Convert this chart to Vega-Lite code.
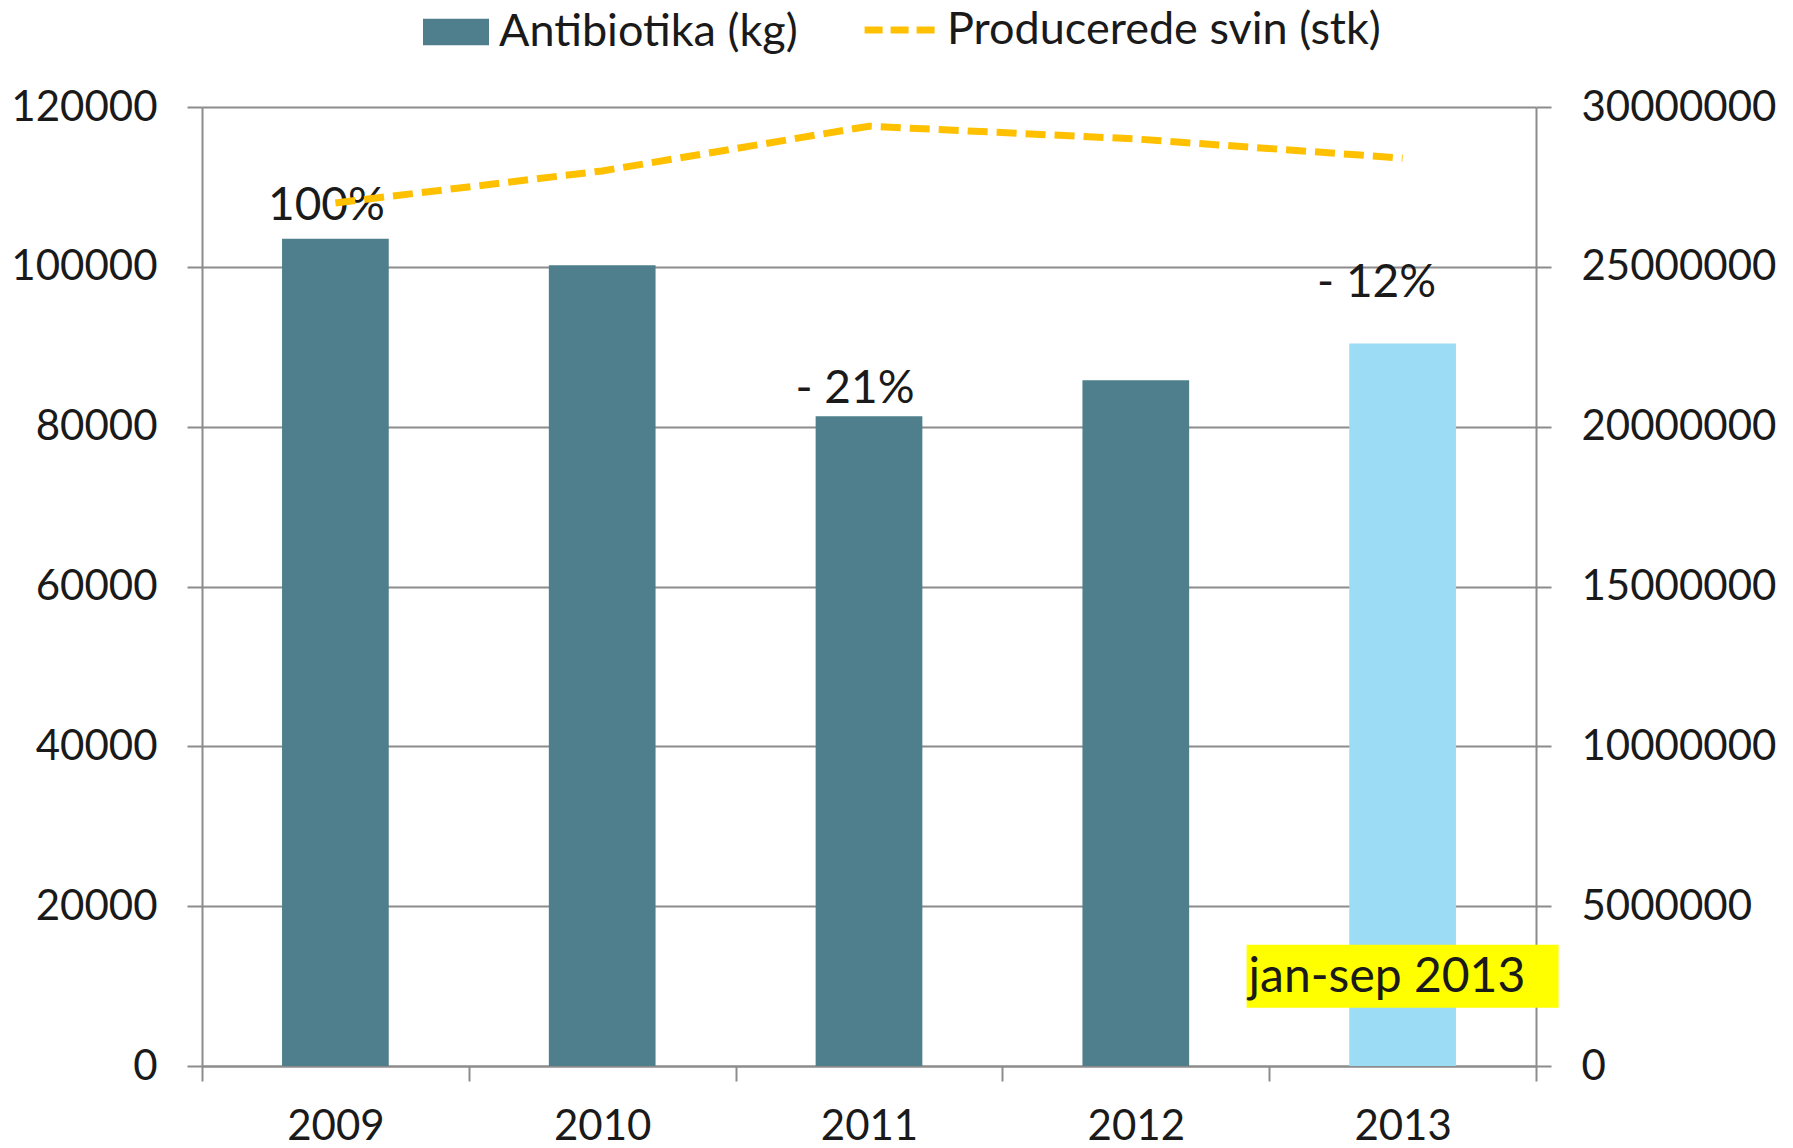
{
  "$schema": "https://vega.github.io/schema/vega-lite/v6.json",
  "autosize": "none",
  "width": 1334,
  "height": 959,
  "padding": {"left": 202, "top": 107, "right": 257, "bottom": 82},
  "background": "white",
  "config": {
    "font": "Lato",
    "view": {"stroke": null},
    "axis": {
      "labelFont": "Lato",
      "labelFontSize": 42,
      "labelColor": "#1a1a1a",
      "labelLimit": 0,
      "domainColor": "#8c8c8c",
      "domainWidth": 2,
      "tickColor": "#8c8c8c",
      "tickWidth": 2,
      "tickSize": 15,
      "gridColor": "#8c8c8c",
      "gridWidth": 2,
      "title": null
    },
    "legend": {"labelFont": "Lato", "labelFontSize": 45, "labelColor": "#1a1a1a", "labelLimit": 0}
  },
  "data": {
    "values": [
      {"year": "2009", "antibiotika": 103500, "svin": 27000000, "label": "100%"},
      {"year": "2010", "antibiotika": 100200, "svin": 28000000, "label": ""},
      {"year": "2011", "antibiotika": 81300, "svin": 29400000, "label": "- 21%"},
      {"year": "2012", "antibiotika": 85800, "svin": 29000000, "label": ""},
      {"year": "2013", "antibiotika": 90400, "svin": 28400000, "label": "- 12%"}
    ]
  },
  "layer": [
    {
      "layer": [
        {
          "mark": {"type": "bar", "width": {"band": 0.4}},
          "encoding": {
            "x": {
              "field": "year", "type": "ordinal",
              "scale": {"paddingInner": 0, "paddingOuter": 0},
              "axis": {"labelAngle": 0, "tickBand": "extent", "labelPadding": 25, "grid": false}
            },
            "y": {
              "field": "antibiotika", "type": "quantitative",
              "scale": {"domain": [0, 120000], "nice": false},
              "axis": {"values": [0, 20000, 40000, 60000, 80000, 100000, 120000], "format": "d", "labelPadding": 30, "grid": true}
            },
            "fill": {
              "datum": "Antibiotika (kg)",
              "scale": {"domain": ["Antibiotika (kg)"], "range": ["#4f7f8c"]},
              "legend": {"title": null, "orient": "none", "legendX": 221, "legendY": -108, "symbolType": "M-1,-0.4H1V0.4H-1Z", "symbolSize": 4356, "labelOffset": 10, "symbolStrokeWidth": 0},
              "condition": {"test": "datum.year === '2013'", "value": "#9ddcf5"}
            }
          }
        },
        {
          "transform": [{"filter": "datum.year === '2009'"}],
          "mark": {"type": "text", "fontSize": 46, "color": "#1a1a1a", "baseline": "middle", "dy": -33, "dx": -9},
          "encoding": {"x": {"field": "year", "type": "ordinal"}, "y": {"field": "antibiotika", "type": "quantitative"}, "text": {"field": "label"}}
        },
        {
          "transform": [{"filter": "datum.year === '2011'"}],
          "mark": {"type": "text", "fontSize": 46, "color": "#1a1a1a", "baseline": "middle", "dy": -27, "dx": -14},
          "encoding": {"x": {"field": "year", "type": "ordinal"}, "y": {"field": "antibiotika", "type": "quantitative"}, "text": {"field": "label"}}
        },
        {
          "transform": [{"filter": "datum.year === '2013'"}],
          "mark": {"type": "text", "fontSize": 46, "color": "#1a1a1a", "baseline": "middle", "dy": -61, "dx": -26},
          "encoding": {"x": {"field": "year", "type": "ordinal"}, "y": {"field": "antibiotika", "type": "quantitative"}, "text": {"field": "label"}}
        },
        {
          "transform": [{"filter": "datum.year === '2013'"}],
          "mark": {"type": "bar", "width": 312, "color": "#ffff00"},
          "encoding": {"x": {"field": "year", "type": "ordinal"}, "y": {"datum": 15179}, "y2": {"datum": 7303}}
        },
        {
          "transform": [{"filter": "datum.year === '2013'"}],
          "mark": {"type": "text", "fontSize": 48, "color": "#1a1a1a", "baseline": "middle", "align": "left", "dx": -154},
          "encoding": {"x": {"field": "year", "type": "ordinal"}, "y": {"datum": 11026}, "text": {"value": "jan-sep 2013"}}
        }
      ]
    },
    {
      "mark": {"type": "line", "strokeWidth": 7, "strokeDash": [20, 9]},
      "encoding": {
        "x": {"field": "year", "type": "ordinal"},
        "y": {
          "field": "svin", "type": "quantitative",
          "scale": {"domain": [0, 30000000], "nice": false},
          "axis": {"orient": "right", "values": [0, 5000000, 10000000, 15000000, 20000000, 25000000, 30000000], "format": "d", "labelPadding": 30, "grid": false}
        },
        "stroke": {
          "datum": "Producerede svin (stk)",
          "scale": {"domain": ["Producerede svin (stk)"], "range": ["#ffc000"]},
          "legend": {"title": null, "orient": "none", "legendX": 659, "legendY": -119, "symbolType": "stroke", "symbolSize": 5900, "symbolStrokeWidth": 7, "symbolDash": [18, 8], "labelOffset": 2}
        }
      }
    }
  ],
  "resolve": {"scale": {"y": "independent"}}
}
